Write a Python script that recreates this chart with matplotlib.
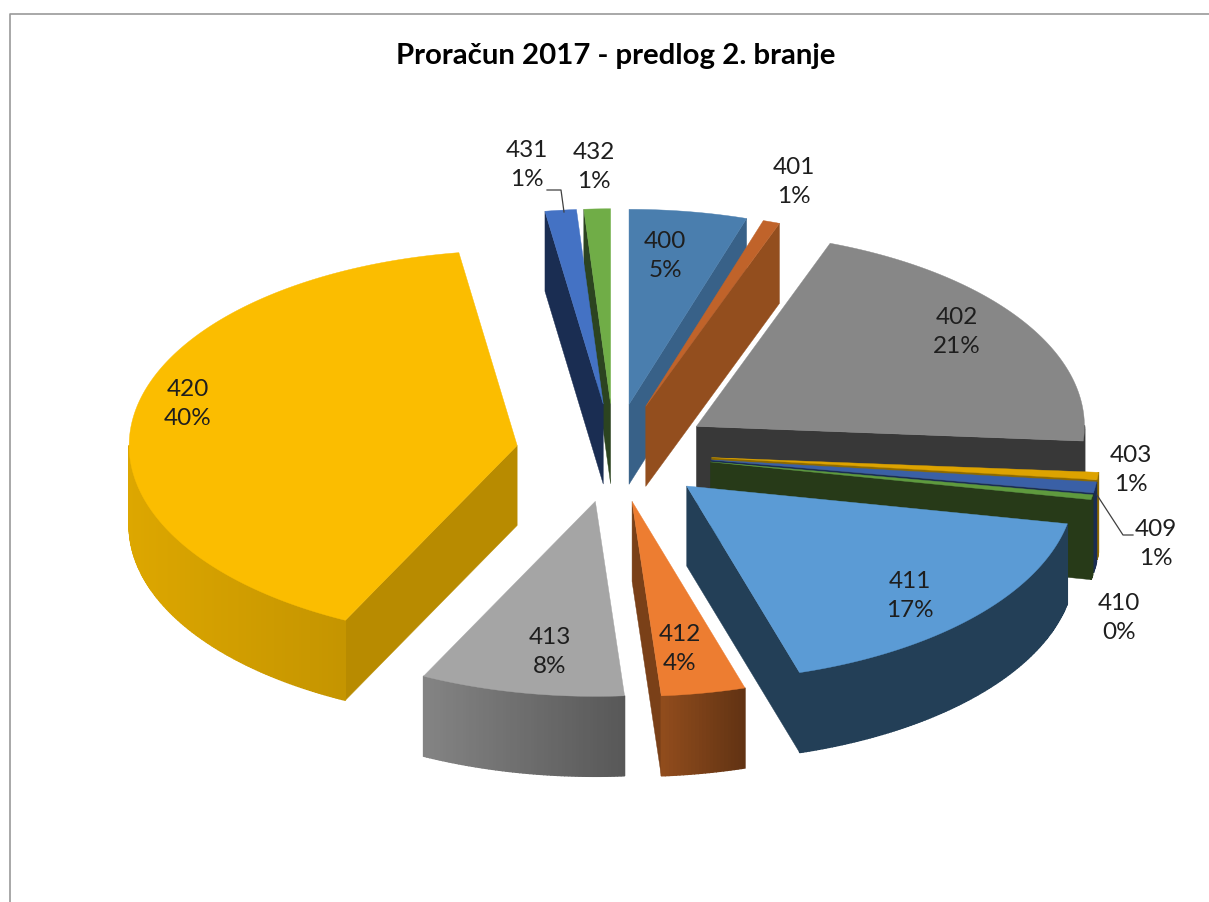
import numpy as np
import matplotlib
matplotlib.use("Agg")
import matplotlib.pyplot as plt
from matplotlib.patches import Polygon

# podatki
names = ["400", "401", "402", "403", "409", "410", "411", "412", "413", "420", "431", "432"]
values = [4.9, 0.7, 20.6, 0.6, 0.9, 0.4, 17.2, 3.5, 8.5, 40.3, 1.3, 1.1]
percent = ["5%", "1%", "21%", "1%", "1%", "0%", "17%", "4%", "8%", "40%", "1%", "1%"]

top_colors = ["#4A7EAE", "#C0632A", "#878787", "#DDA300", "#3A60A6", "#5F9A3E",
              "#5B9BD5", "#ED7D31", "#A5A5A5", "#FBBD00", "#4472C4", "#70AD47"]
wall_colors = ["#386188", "#934E1E", "#383838", "#8E6A00", "#1A2D52", "#273A18",
               "#233F57", "#7A4018", "#6E6E6E", "#B88B00", "#1A2D52", "#2C4420"]

# polozaji oznak v pikslih
label_pos = [(665, 256), (794, 182), (957, 332), (1131, 470), (1156, 544), (1119, 618),
             (910, 596), (680, 649), (550, 652), (188, 404), (527, 165), (594, 167)]

title = "Proračun 2017 - predlog 2. branje"

cx, cy = 614, 453
rx, ry = 388, 195
explode = 98
depth = 80


def shade(color, k):
    rgb = np.array(matplotlib.colors.to_rgb(color))
    return tuple(np.clip(rgb * k, 0, 1))


fig = plt.figure(figsize=(12.09, 9.02), dpi=100)
ax = fig.add_axes([0, 0, 1, 1])
ax.set_xlim(0, 1209)
ax.set_ylim(902, 0)
ax.axis("off")

# okvir
ax.plot([1209, 10, 10], [14, 14, 902], color="#9A9A9A", lw=1.2, zorder=0)

fractions = np.array(values) / sum(values)
ends = np.cumsum(fractions) * 360
starts = ends - fractions * 360
mids = (starts + ends) / 2

# najprej zadnji kosi
order = np.argsort(-np.cos(np.radians(mids)))

z = 1
for i in order:
    a, b = starts[i], ends[i]
    m = np.radians(mids[i])
    ox = cx + explode * np.sin(m)
    oy = cy - explode * np.cos(m) * ry / rx
    arc = np.linspace(a, b, max(int(b - a) * 2, 4))
    ax_x = ox + rx * np.sin(np.radians(arc))
    ax_y = oy - ry * np.cos(np.radians(arc))

    # stranske stene
    if np.sin(np.radians(a)) < -0.01:
        xs = [ox, ax_x[0], ax_x[0], ox]
        ys = [oy, ax_y[0], ax_y[0] + depth, oy + depth]
        ax.add_patch(Polygon(np.c_[xs, ys], fc=wall_colors[i], ec=wall_colors[i], lw=0.3, zorder=z))
    if np.sin(np.radians(b)) > 0.01:
        xs = [ox, ax_x[-1], ax_x[-1], ox]
        ys = [oy, ax_y[-1], ax_y[-1] + depth, oy + depth]
        ax.add_patch(Polygon(np.c_[xs, ys], fc=wall_colors[i], ec=wall_colors[i], lw=0.3, zorder=z))

    # zunanja stena, s prelivom
    for j in range(len(arc) - 1):
        if np.cos(np.radians((arc[j] + arc[j + 1]) / 2)) >= 0:
            continue
        k = 1.0
        if i in (7, 8, 9):
            u = (ax_x[j] - ax_x.min()) / max(ax_x.max() - ax_x.min(), 1)
            k = 1.2 - (0.2 if i == 9 else 0.4) * u
        col = shade(wall_colors[i], k)
        xs = [ax_x[j], ax_x[j + 1], ax_x[j + 1], ax_x[j]]
        ys = [ax_y[j], ax_y[j + 1], ax_y[j + 1] + depth, ax_y[j] + depth]
        ax.add_patch(Polygon(np.c_[xs, ys], fc=col, ec=col, lw=1.0, zorder=z))

    # zgornja ploskev
    ax.add_patch(Polygon(np.c_[np.r_[ox, ax_x], np.r_[oy, ax_y]], fc=top_colors[i],
                         ec=top_colors[i], lw=0.3, zorder=z))
    z += 1

# oznake
for name, pct, (lx, ly) in zip(names, percent, label_pos):
    ax.text(lx, ly, name + "\n" + pct, ha="center", va="center", fontsize=17.5,
            family="Lato", color="#1E1E1E", linespacing=1.42, zorder=50)

# povezovalne crte
ax.plot([547, 561, 564], [190, 190, 212], color="#404040", lw=0.9, zorder=51)
ax.plot([1097, 1123, 1133], [495, 535, 535], color="#404040", lw=0.9, zorder=51)

ax.text(616, 56, title, ha="center", va="center", fontsize=21.2, fontweight="bold",
        family="Lato", color="black", zorder=50)

fig.savefig("out.png", dpi=100, facecolor="white")
